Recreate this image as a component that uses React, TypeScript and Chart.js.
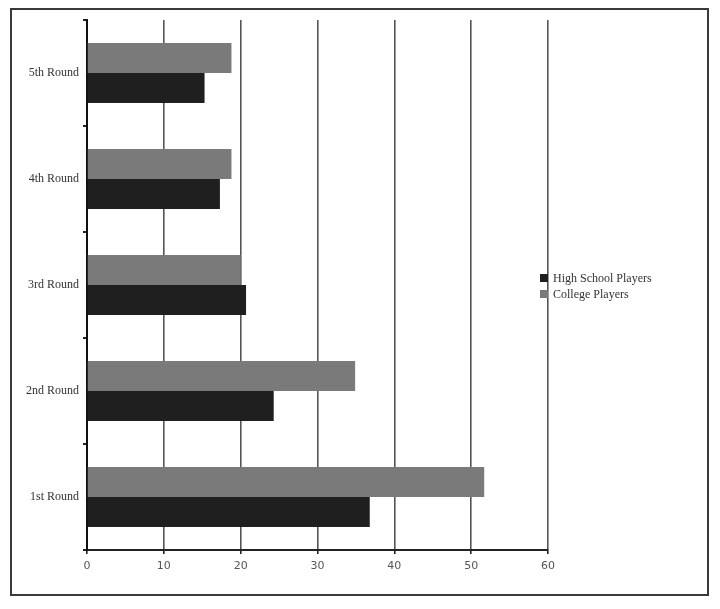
import React, { useRef, useEffect } from 'react';
import { Chart, registerables } from 'chart.js';

Chart.register(...registerables);

const rounds = ['1st Round', '2nd Round', '3rd Round', '4th Round', '5th Round'];
const highSchool = [36.8, 24.3, 20.7, 17.3, 15.3];
const college = [51.7, 34.9, 20.0, 18.8, 18.8];
const xTicks = [0, 10, 20, 30, 40, 50, 60];

const serif = '"Liberation Serif", "DejaVu Serif", serif';

// draws the little legend that sits over the right edge of the plot
const legendPlugin = {
  id: 'sideLegend',
  afterDraw(chart: Chart) {
    const ctx = chart.ctx;
    const x = chart.chartArea.right - 8;
    let y = 274;
    ctx.save();
    ctx.font = `12px ${serif}`;
    ctx.textBaseline = 'middle';
    // legend lists the series bottom-bar first
    [...chart.data.datasets].reverse().forEach((ds) => {
      ctx.fillStyle = ds.backgroundColor as string;
      ctx.fillRect(x, y, 8, 8);
      ctx.fillStyle = '#333';
      ctx.fillText(ds.label as string, x + 13, y + 5);
      y += 16;
    });
    ctx.restore();
  },
};

export default function App() {
  const canvasRef = useRef<HTMLCanvasElement | null>(null);

  useEffect(() => {
    if (!canvasRef.current) return;
    const chart = new Chart(canvasRef.current, {
      type: 'bar',
      data: {
        labels: rounds,
        datasets: [
          { label: 'College Players', data: college, backgroundColor: '#7a7a7a', borderWidth: 0 },
          { label: 'High School Players', data: highSchool, backgroundColor: '#1f1f1f', borderWidth: 0 },
        ],
      },
      options: {
        indexAxis: 'y',
        animation: false,
        responsive: false,
        devicePixelRatio: 1,
        layout: { padding: { left: 10, right: 172, top: 20, bottom: 29 } },
        datasets: { bar: { categoryPercentage: 0.566, barPercentage: 1 } },
        plugins: { legend: { display: false }, tooltip: { enabled: false } },
        scales: {
          x: {
            min: 0,
            max: 60,
            afterBuildTicks: (s: any) => { s.ticks = xTicks.map((v) => ({ value: v })); },
            afterFit: (s: any) => { s.height = 30; },
            grid: { color: '#555', lineWidth: 1.6, tickLength: 4, tickColor: '#222', drawTicks: true },
            border: { display: true, color: '#222', width: 2 },
            ticks: { color: '#555', font: { family: '"DejaVu Sans", sans-serif', size: 11 }, padding: 6 },
          },
          y: {
            reverse: true,
            afterFit: (s: any) => { s.width = 77; },
            grid: { drawOnChartArea: false, tickLength: 4, tickColor: '#222', lineWidth: 2 },
            border: { display: true, color: '#111', width: 2 },
            ticks: { color: '#333', font: { family: serif, size: 12 }, padding: 4 },
          },
        },
      },
      plugins: [legendPlugin],
    });
    return () => chart.destroy();
  }, []);

  return (
    <div style={{ position: 'fixed', left: 0, top: 0, width: 720, height: 609, background: '#fff' }}>
      <div
        style={{
          position: 'absolute', left: 10, top: 8, width: 695, height: 584,
          border: '2px solid #3a3a3a',
        }}
      />
      <canvas ref={canvasRef} width={720} height={609} style={{ position: 'absolute', left: 0, top: 0 }} />
    </div>
  );
}
